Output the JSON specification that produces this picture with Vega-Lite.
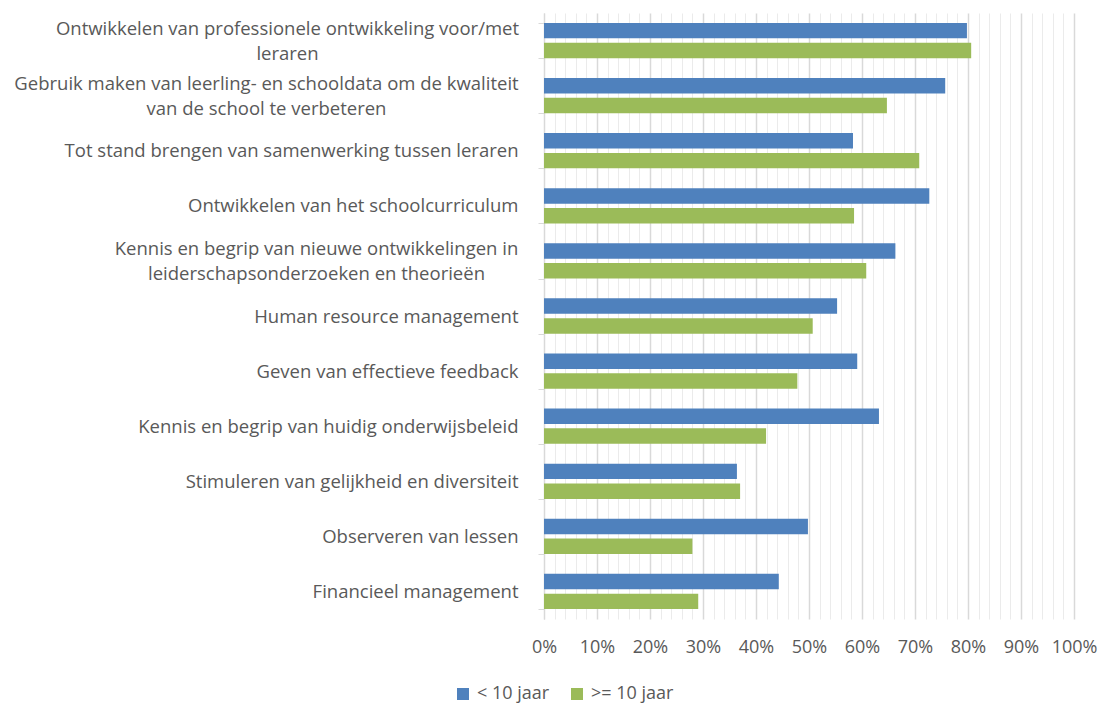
{
  "$schema": "https://vega.github.io/schema/vega-lite/v6.json",
  "width": 530,
  "height": 606,
  "autosize": {"type": "none"},
  "padding": {"left": 544, "top": 13, "right": 31, "bottom": 87},
  "background": "white",
  "data": {
    "values": [
      {"item": "Ontwikkelen van professionele ontwikkeling voor/met|leraren", "group": "< 10 jaar", "value": 79.8},
      {"item": "Ontwikkelen van professionele ontwikkeling voor/met|leraren", "group": ">= 10 jaar", "value": 80.6},
      {"item": "Gebruik maken van leerling- en schooldata om de kwaliteit|van de school te verbeteren", "group": "< 10 jaar", "value": 75.7},
      {"item": "Gebruik maken van leerling- en schooldata om de kwaliteit|van de school te verbeteren", "group": ">= 10 jaar", "value": 64.7},
      {"item": "Tot stand brengen van samenwerking tussen leraren", "group": "< 10 jaar", "value": 58.3},
      {"item": "Tot stand brengen van samenwerking tussen leraren", "group": ">= 10 jaar", "value": 70.8},
      {"item": "Ontwikkelen van het schoolcurriculum", "group": "< 10 jaar", "value": 72.7},
      {"item": "Ontwikkelen van het schoolcurriculum", "group": ">= 10 jaar", "value": 58.5},
      {"item": "Kennis en begrip van nieuwe ontwikkelingen in|leiderschapsonderzoeken en theorieën", "group": "< 10 jaar", "value": 66.3},
      {"item": "Kennis en begrip van nieuwe ontwikkelingen in|leiderschapsonderzoeken en theorieën", "group": ">= 10 jaar", "value": 60.8},
      {"item": "Human resource management", "group": "< 10 jaar", "value": 55.3},
      {"item": "Human resource management", "group": ">= 10 jaar", "value": 50.7},
      {"item": "Geven van effectieve feedback", "group": "< 10 jaar", "value": 59.1},
      {"item": "Geven van effectieve feedback", "group": ">= 10 jaar", "value": 47.8},
      {"item": "Kennis en begrip van huidig onderwijsbeleid", "group": "< 10 jaar", "value": 63.2},
      {"item": "Kennis en begrip van huidig onderwijsbeleid", "group": ">= 10 jaar", "value": 41.9},
      {"item": "Stimuleren van gelijkheid en diversiteit", "group": "< 10 jaar", "value": 36.4},
      {"item": "Stimuleren van gelijkheid en diversiteit", "group": ">= 10 jaar", "value": 37.0},
      {"item": "Observeren van lessen", "group": "< 10 jaar", "value": 49.8},
      {"item": "Observeren van lessen", "group": ">= 10 jaar", "value": 28.0},
      {"item": "Financieel management", "group": "< 10 jaar", "value": 44.3},
      {"item": "Financieel management", "group": ">= 10 jaar", "value": 29.1}
    ]
  },
  "mark": {"type": "bar"},
  "encoding": {
    "y": {
      "field": "item",
      "type": "nominal",
      "sort": null,
      "scale": {"paddingInner": 0.36, "paddingOuter": 0.18},
      "axis": {
        "title": null,
        "labelExpr": "datum.value ? split(datum.value, '|') : ''",
        "labelFont": "Open Sans",
        "labelFontSize": 18.5,
        "labelColor": "#595959",
        "labelLineHeight": 25,
        "labelAlign": {"condition": {"test": "indexof(datum.value || '', '|') >= 0", "value": "center"}, "value": "right"},
        "labelOffset": {"condition": {"test": "indexof(datum.value || '', '|') >= 0", "value": -12.5}, "value": 0},
        "labelPadding": {"condition": [
          {"test": "indexof(datum.value || '', 'voor/met') >= 0", "value": 251},
          {"test": "indexof(datum.value || '', 'kwaliteit') >= 0", "value": 272},
          {"test": "indexof(datum.value || '', 'theorie') >= 0", "value": 222}
        ], "value": 20},
        "labelLimit": 600,
        "tickBand": "extent",
        "tickSize": 6,
        "tickColor": "#D9D9D9",
        "domainColor": "#D9D9D9",
        "grid": false
      }
    },
    "yOffset": {
      "field": "group",
      "type": "nominal",
      "scale": {"paddingInner": 0.22}
    },
    "x": {
      "field": "value",
      "type": "quantitative",
      "scale": {"domain": [0, 100], "nice": false},
      "axis": {
        "title": null,
        "values": [0,2,4,6,8,10,12,14,16,18,20,22,24,26,28,30,32,34,36,38,40,42,44,46,48,50,52,54,56,58,60,62,64,66,68,70,72,74,76,78,80,82,84,86,88,90,92,94,96,98,100],
        "labelExpr": "datum.value % 10 == 0 ? datum.value + '%' : ''",
        "labelOverlap": false,
        "labelFlush": false,
        "labelFont": "Open Sans",
        "labelFontSize": 18,
        "labelColor": "#595959",
        "labelPadding": 19,
        "ticks": false,
        "domain": false,
        "grid": true,
        "gridColor": {"condition": {"test": "datum.value % 10 == 0", "value": "#D9D9D9"}, "value": "#EBEBEB"},
        "gridWidth": {"condition": {"test": "datum.value % 10 == 0", "value": 1.5}, "value": 1}
      }
    },
    "color": {
      "field": "group",
      "type": "nominal",
      "scale": {"domain": ["< 10 jaar", ">= 10 jaar"], "range": ["#4F81BD", "#9BBB59"]},
      "legend": {
        "title": null,
        "orient": "none",
        "direction": "horizontal",
        "legendX": -90,
        "legendY": 672,
        "symbolType": "square",
        "symbolSize": 144,
        "symbolStrokeWidth": 0,
        "labelFont": "Open Sans",
        "labelFontSize": 18,
        "labelColor": "#595959",
        "labelOffset": 5,
        "columnPadding": 18
      }
    }
  },
  "config": {"view": {"stroke": null}}
}
